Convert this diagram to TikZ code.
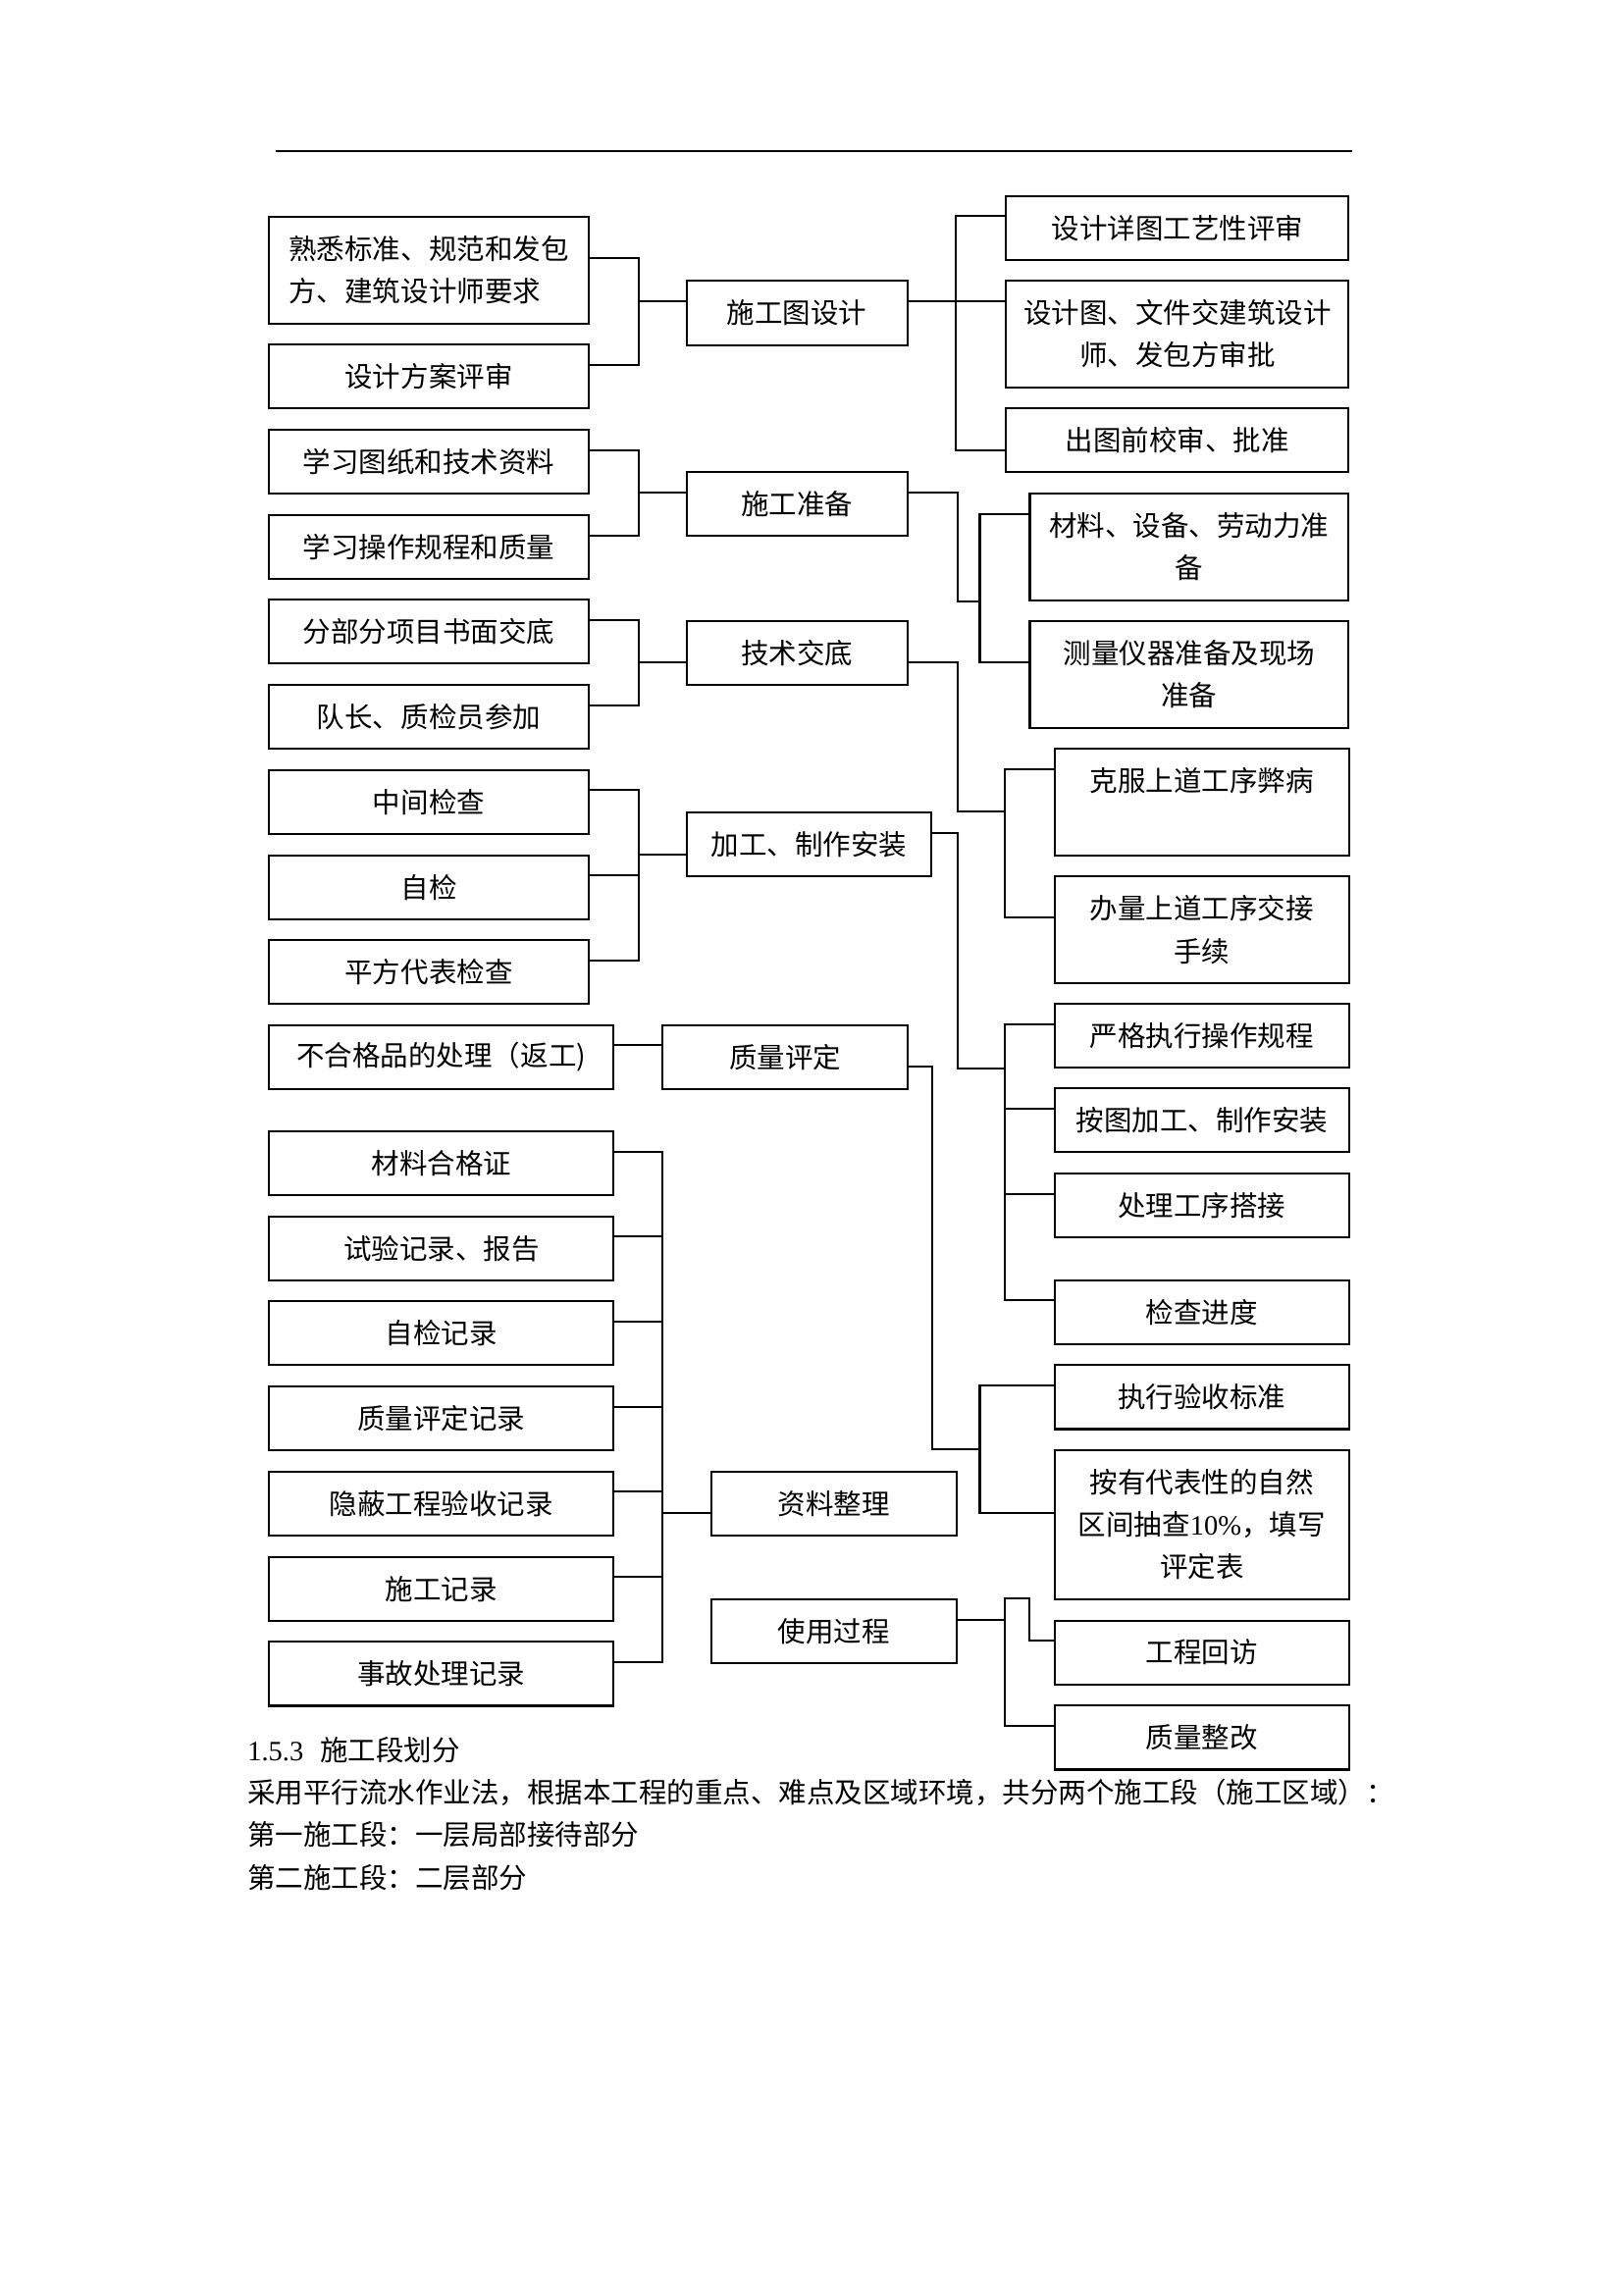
\documentclass[tikz,border=0pt]{standalone}
\usepackage{fontspec}
\setmainfont{Noto Sans CJK SC}
\newfontfamily\lat{Liberation Serif}

\newcommand{\pxunit}{0.127mm}
\newcommand{\rowh}{2.76mm}

\begin{document}
\begin{tikzpicture}[x=0.127mm,y=-0.127mm]
		\tikzstyle{every node}=[font=\fontsize{10.3pt}{15.6pt}\selectfont]
		\tikzstyle{cell}=[draw,line width=0.75pt,inner sep=0pt,align=center,minimum height=65.3*\pxunit]
		\tikzstyle{two}=[minimum height=109.2*\pxunit]
		\tikzstyle{three}=[minimum height=152.3*\pxunit]
		\tikzstyle{colA}=[minimum width=325.4*\pxunit]
		\tikzstyle{colB}=[minimum width=351*\pxunit]
		\tikzstyle{midA}=[minimum width=225.1*\pxunit]
		\tikzstyle{midB}=[minimum width=249.3*\pxunit]
		\tikzstyle{midC}=[minimum width=250.1*\pxunit]
		\tikzstyle{rgtA}=[minimum width=349.1*\pxunit]
		\tikzstyle{rgtB}=[minimum width=324.9*\pxunit]
		\tikzstyle{rgtC}=[minimum width=299.5*\pxunit]
		\tikzstyle{link}=[line width=0.75pt]
		\tikzstyle{para}=[anchor=west,inner sep=0pt]
		
		\path[fill=white,use as bounding box] (0,0) rectangle (1654,2339);
		\draw[line width=0.8pt] (281,154) -- (1378,154);
		
		% left column
		\node[cell,colA,two,align=left] (fam) at (437,275.3) {熟悉标准、规范和发包\\方、建筑设计师要求};
		\node[cell,colA] (rev) at (437,383.8) {设计方案评审};
		\node[cell,colA] (stud) at (437,470.5) {学习图纸和技术资料};
		\node[cell,colA] (oper) at (437,557.5) {学习操作规程和质量};
		\node[cell,colA] (sub) at (437,643.8) {分部分项目书面交底};
		\node[cell,colA] (lead) at (437,730.5) {队长、质检员参加};
		\node[cell,colA] (mchk) at (437,817.2) {中间检查};
		\node[cell,colA] (self) at (437,904.2) {自检};
		\node[cell,colA] (sq) at (437,990.8) {平方代表检查};
		\node[cell,colB] (rej) at (449.8,1077.2) {不合格品的处理（返工)};
		\node[cell,colB] (cert) at (449.8,1185.5) {材料合格证};
		\node[cell,colB] (test) at (449.8,1272.2) {试验记录、报告};
		\node[cell,colB] (selfr) at (449.8,1358.8) {自检记录};
		\node[cell,colB] (qar) at (449.8,1445.5) {质量评定记录};
		\node[cell,colB] (hid) at (449.8,1532.2) {隐蔽工程验收记录};
		\node[cell,colB] (conr) at (449.8,1619.2) {施工记录};
		\node[cell,colB] (acc) at (449.8,1705.8) {事故处理记录};
		
		% middle column
		\node[cell,midA] (plan) at (812.2,319) {施工图设计};
		\node[cell,midA] (prep) at (812.2,513.8) {施工准备};
		\node[cell,midA] (tech) at (812.2,665.5) {技术交底};
		\node[cell,midB] (wk) at (824.3,860.8) {加工、制作安装};
		\node[cell,midB] (qa) at (800,1077.2) {质量评定};
		\node[cell,midC] (arch) at (849.7,1532.2) {资料整理};
		\node[cell,midC] (use) at (849.7,1662.5) {使用过程};
		
		% right column
		\node[cell,rgtA] (det) at (1199.8,232.3) {设计详图工艺性评审};
		\node[cell,rgtA,two] (appr) at (1199.8,340.5) {设计图、文件交建筑设计\\师、发包方审批};
		\node[cell,rgtA] (chk) at (1199.8,448.8) {出图前校审、批准};
		\node[cell,rgtB,two] (mat) at (1211.9,557.5) {材料、设备、劳动力准\\备};
		\node[cell,rgtB,two] (srv) at (1211.9,687.2) {测量仪器准备及现场\\准备};
		\node[cell,rgtC,two] (ovc) at (1224.8,817.5) {克服上道工序弊病\\\phantom{克}};
		\node[cell,rgtC,two] (hnd) at (1224.8,947.5) {办量上道工序交接\\手续};
		\node[cell,rgtC] (strict) at (1224.8,1055.5) {严格执行操作规程};
		\node[cell,rgtC] (bytu) at (1224.8,1141.8) {按图加工、制作安装};
		\node[cell,rgtC] (lap) at (1224.8,1228.8) {处理工序搭接};
		\node[cell,rgtC] (prog) at (1224.8,1337.2) {检查进度};
		\node[cell,rgtC] (std) at (1224.8,1423.8) {执行验收标准};
		\node[cell,rgtC,three] (rand) at (1224.8,1553.8) {按有代表性的自然\\区间抽查{\lat 10\%}，填写\\评定表};
		\node[cell,rgtC] (visit) at (1224.8,1684.2) {工程回访};
		\node[cell,rgtC] (fix) at (1224.8,1770.8) {质量整改};
		
		% left joins
		\draw[link] ([yshift=-2*\rowh]fam.north east) -- ++(50,0) coordinate (j1) |- ([yshift=-\rowh]rev.north east);
		\draw[link] ([yshift=-\rowh]plan.north west) -| (j1);
		\draw[link] ([yshift=-\rowh]stud.north east) -- ++(50,0) coordinate (j2) |- ([yshift=-\rowh]oper.north east);
		\draw[link] ([yshift=-\rowh]prep.north west) -| (j2);
		\draw[link] ([yshift=-\rowh]sub.north east) -- ++(50,0) coordinate (j3) |- ([yshift=-\rowh]lead.north east);
		\draw[link] ([yshift=-2*\rowh]tech.north west) -| (j3);
		\draw[link] ([yshift=-\rowh]mchk.north east) -- ++(50,0) coordinate (j4) |- ([yshift=-\rowh]sq.north east);
		\draw[link] ([yshift=-\rowh]self.north east) -| (j4);
		\draw[link] ([yshift=-2*\rowh]wk.north west) -| (j4);
		\draw[link] ([yshift=-\rowh]rej.north east) -- ([yshift=-\rowh]qa.north west);
		\draw[link] ([yshift=-\rowh]cert.north east) -- ++(49,0) coordinate (j5) |- ([yshift=-\rowh]acc.north east);
		\foreach \n in {test,selfr,qar,hid,conr}
			\draw[link] ([yshift=-\rowh]\n.north east) -| (j5);
		\draw[link] ([yshift=-2*\rowh]arch.north west) -| (j5);
		
		% right joins
		\draw[link] ([yshift=-\rowh]det.north west) -- ++(-50.6,0) coordinate (k1) |- ([yshift=-2*\rowh]chk.north west);
		\draw[link] ([yshift=-\rowh]appr.north west) -| (k1);
		\draw[link] ([yshift=-\rowh]plan.north east) -| (k1);
		\draw[link] ([yshift=-\rowh]mat.north west) -- ++(-49.9,0) coordinate (k2) |- ([yshift=-2*\rowh]srv.north west);
		\draw[link] ([yshift=-\rowh]prep.north east) -- ++(49.9,0) |- (k2 |- mat.south);
		\draw[link] ([yshift=-\rowh]ovc.north west) -- ++(-50,0) coordinate (k3) |- ([yshift=-2*\rowh]hnd.north west);
		\draw[link] ([yshift=-2*\rowh]tech.north east) -- ++(49.9,0) |- (k3 |- wk.north);
		\draw[link] ([yshift=-\rowh]strict.north west) -- ++(-50,0) coordinate (k4) |- ([yshift=-\rowh]prog.north west);
		\draw[link] ([yshift=-\rowh]bytu.north west) -| (k4);
		\draw[link] ([yshift=-\rowh]lap.north west) -| (k4);
		\draw[link] ([yshift=-\rowh]wk.north east) -- ++(25.7,0) |- (k4 |- strict.south);
		\draw[link] ([yshift=-\rowh]std.north west) -- ++(-75.5,0) coordinate (k5) |- ([yshift=-3*\rowh]rand.north west);
		\draw[link] ([yshift=-2*\rowh]qa.north east) -- ++(24.4,0) |- (k5 |- rand.north);
		\draw[link] ([yshift=-\rowh]fix.north west) -- ++(-50,0) coordinate (k6) -- (k6 |- use.north) -- ++(25,0) |- ([yshift=-\rowh]visit.north west);
		\draw[link] ([yshift=-\rowh]use.north east) -| (k6);
		
		% text below
		\node[para] (hd) at (251.7,1783.3) {{\lat 1.5.3}\hspace{0.6em}施工段划分};
		\node[para] (p1) at (251.7,1826.7) {采用平行流水作业法，根据本工程的重点、难点及区域环境，共分两个施工段（施工区域）：};
		\node[para] (p2) at (251.7,1870) {第一施工段：一层局部接待部分};
		\node[para] (p3) at (251.7,1913.3) {第二施工段：二层部分};
\end{tikzpicture}
\end{document}
